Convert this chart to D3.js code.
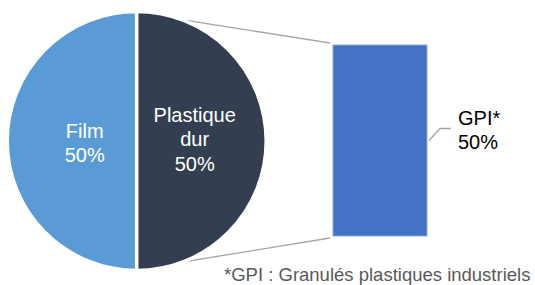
<!DOCTYPE html>
<html>
<head>
<meta charset="utf-8">
<script src="https://cdn.jsdelivr.net/npm/d3@7"></script>
<style>
  html, body { margin: 0; padding: 0; background: #fff; }
  svg { display: block; font-family: "Liberation Sans", Arial, sans-serif; }
</style>
</head>
<body>
<svg id="chart" width="535" height="285"></svg>
<script>
// ---- data ----
const pieCategories = ["Film", "Plastique dur"];
const pieValues = [50, 50];
const pieLabelLines = [["Film", "50%"], ["Plastique", "dur", "50%"]];
const barCategories = ["GPI*"];
const barValues = [50];
const barLabelLines = [["GPI*", "50%"]];
const footnote = "*GPI : Granulés plastiques industriels";

const pieColors = ["#5B9BD5", "#333F50"];
const barColor = "#4472C4";

const svg = d3.select("#chart");

// ---- pie ----
const cx = 136.7, cy = 141, R = 129.5;
const pie = d3.pie().sort(null).value(d => d).startAngle(Math.PI).endAngle(3 * Math.PI);
const arcs = pie(pieValues);
const arc = d3.arc().innerRadius(0).outerRadius(R);

// ---- bar scales ----
const xBar = d3.scaleBand().domain(barCategories).range([333, 427]).padding(0);
const yBar = d3.scaleLinear().domain([0, d3.sum(barValues)]).range([236, 45]);

// connector lines (under the pie)
const conn = svg.append("g").attr("stroke", "#A6A6A6").attr("stroke-width", 1.3).attr("fill", "none");
const barLeft = xBar(barCategories[0]);
conn.append("line")
  .attr("x1", cx).attr("y1", cy - R + 1)
  .attr("x2", barLeft - 3).attr("y2", yBar(d3.sum(barValues)) - 2);
conn.append("line")
  .attr("x1", cx).attr("y1", cy + R - 1)
  .attr("x2", barLeft - 3).attr("y2", yBar(0) + 2);

const pg = svg.append("g").attr("transform", `translate(${cx},${cy})`);
pg.selectAll("path").data(arcs).join("path")
  .attr("d", arc)
  .attr("fill", (d, i) => pieColors[i])
  .attr("stroke", "#fff")
  .attr("stroke-width", 3.5)
  .attr("stroke-linejoin", "round");

const labelRadii = [52, 58];
pg.selectAll("text.pl").data(arcs).join("text")
  .attr("class", "pl")
  .attr("text-anchor", "middle")
  .attr("fill", "#fff")
  .attr("font-size", 20)
  .each(function (d, i) {
    const a = (d.startAngle + d.endAngle) / 2;
    const x = Math.sin(a) * labelRadii[i];
    const lines = pieLabelLines[i];
    const lh = 24.7;
    const baseY = (i === 0 ? 137.5 : 121.7) - cy;
    d3.select(this).selectAll("tspan").data(lines).join("tspan")
      .attr("x", x)
      .attr("y", (t, j) => baseY + j * lh)
      .text(t => t);
  });

// ---- bar ----
svg.append("g").selectAll("rect").data(barValues).join("rect")
  .attr("x", (d, i) => xBar(barCategories[i]))
  .attr("y", d => yBar(d))
  .attr("width", xBar.bandwidth())
  .attr("height", d => yBar(0) - yBar(d))
  .attr("fill", barColor)
  .attr("stroke", "#8EAADB")
  .attr("stroke-width", 1);

// bar label with leader line
const midY = (yBar(0) + yBar(barValues[0])) / 2;
const barRight = xBar(barCategories[0]) + xBar.bandwidth();
svg.append("polyline")
  .attr("points", `${barRight + 2},${midY} ${barRight + 13},${midY - 12} ${barRight + 24},${midY - 12}`)
  .attr("fill", "none").attr("stroke", "#A6A6A6").attr("stroke-width", 1.3);

svg.append("text")
  .attr("fill", "#000")
  .attr("font-size", 20)
  .selectAll("tspan").data(barLabelLines[0]).join("tspan")
  .attr("x", 458)
  .attr("y", (t, j) => 125 + j * 24)
  .text(t => t);

// footnote
svg.append("text")
  .attr("x", 224).attr("y", 280.5)
  .attr("fill", "#595959")
  .attr("font-size", 18.5)
  .text(footnote);
</script>
</body>
</html>
